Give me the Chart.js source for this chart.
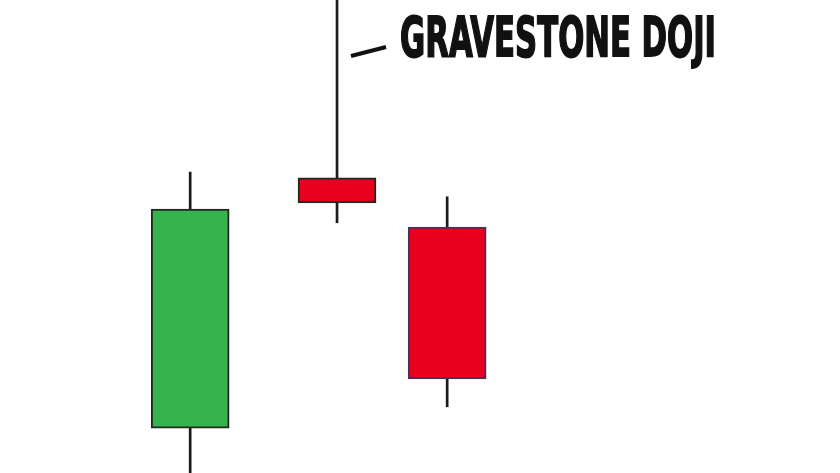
<!DOCTYPE html>
<html>
<head>
<meta charset="utf-8">
<script src="https://cdn.jsdelivr.net/npm/chart.js@4.4.1/dist/chart.umd.min.js"></script>
<style>
  html, body { margin: 0; padding: 0; background: #fff; }
  .chart-container { width: 840px; height: 473px; }
</style>
</head>
<body>
<div class="chart-container"><canvas id="chart"></canvas></div>
<script>
// candle positions (sessions) and prices
const periods = [0, 4, 7];
const opens = [9.5, 62.4, 52.0];
const closes = [55.8, 57.1, 19.9];
const highs = [63.6, 106, 58.4];
const lows = [-5, 52.9, 14.0];
const annotationText = "GRAVESTONE DOJI";
const annotationIndex = 1;

const GREEN = "#36b24f";
const RED = "#e8001e";

const upColor = (i) => (closes[i] >= opens[i] ? GREEN : RED);

const whiteBg = {
  id: "whiteBg",
  beforeDraw(chart) {
    const { ctx, width, height } = chart;
    ctx.save();
    ctx.fillStyle = "#fff";
    ctx.fillRect(0, 0, width, height);
    ctx.restore();
  },
};

const annotation = {
  id: "annotation",
  afterDraw(chart) {
    const { ctx, scales } = chart;
    const wx = scales.x.getPixelForValue(periods[annotationIndex]);
    ctx.save();
    // leader line
    ctx.strokeStyle = "#111";
    ctx.lineWidth = 4;
    ctx.lineCap = "butt";
    ctx.beginPath();
    ctx.moveTo(wx + 14, 56);
    ctx.lineTo(wx + 49, 47);
    ctx.stroke();
    // label, squeezed like a condensed display face
    ctx.font = "bold 56px 'Liberation Sans Narrow', 'DejaVu Sans Condensed', 'Liberation Sans', sans-serif";
    ctx.fillStyle = "#111";
    ctx.textBaseline = "alphabetic";
    const targetW = 316;
    const w = ctx.measureText(annotationText).width;
    ctx.translate(wx + 63, 56);
    ctx.scale(targetW / w, 1);
    ctx.fillText(annotationText, 0, 0);
    ctx.lineWidth = 1.8;
    ctx.strokeStyle = "#111";
    ctx.strokeText(annotationText, 0, 0);
    ctx.restore();
  },
};

const ctx = document.getElementById("chart").getContext("2d");
new Chart(ctx, {
  type: "bar",
  data: {
    datasets: [
      {
        label: "Body",
        data: periods.map((x, i) => ({ x, y: [opens[i], closes[i]] })),
        backgroundColor: periods.map((_, i) => upColor(i)),
        borderColor: periods.map((_, i) => (i === 2 ? "#4b2f5c" : "#1d2a1d")),
        borderWidth: 2,
        borderSkipped: false,
        barThickness: 78,
        grouped: false,
      },
      {
        label: "Wick",
        data: periods.map((x, i) => ({ x, y: [lows[i], highs[i]] })),
        backgroundColor: "#1a1a1a",
        borderWidth: 0,
        barThickness: 2,
        grouped: false,
      },
    ],
  },
  options: {
    responsive: true,
    maintainAspectRatio: false,
    animation: false,
    layout: { padding: 0 },
    plugins: {
      legend: { display: false },
      tooltip: { enabled: false },
    },
    scales: {
      x: {
        type: "linear",
        display: false,
        offset: false,
        min: -5.18,
        max: 17.7,
      },
      y: {
        display: false,
        min: 0,
        max: 100,
      },
    },
  },
  plugins: [whiteBg, annotation],
});
</script>
</body>
</html>
